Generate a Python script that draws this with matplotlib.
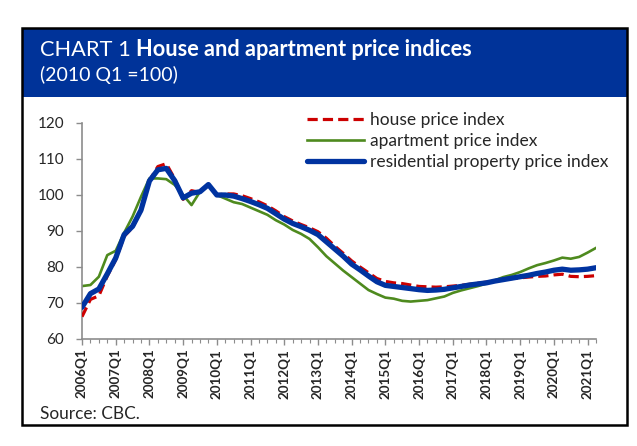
import matplotlib
matplotlib.use("Agg")
import matplotlib.pyplot as plt
import matplotlib.patches as mpatches
import numpy as np

# ── Data (2010 Q1 = 100) ───────────────────────────────────────────────────────
years = list(range(2006, 2022))
quarters = [f"{y}Q{q}" for y in years for q in range(1, 5)][:62]   # 2006Q1 .. 2021Q2

house = [66.2, 71.0, 72.0, 77.5, 82.0, 88.5, 91.0, 95.5, 104.0, 107.9,
         108.7, 104.5, 98.8, 101.2, 100.7, 102.8, 100.0, 100.3, 100.3, 99.8,
         99.0, 98.1, 97.0, 95.6, 94.0, 92.8, 91.8, 90.9, 89.8, 88.0,
         85.8, 83.8, 81.7, 80.0, 78.4, 76.8, 76.0, 75.6, 75.4, 75.0,
         74.6, 74.5, 74.4, 74.5, 74.7, 74.9, 75.2, 75.5, 75.8, 76.2,
         76.5, 76.8, 77.0, 77.2, 77.4, 77.5, 77.8, 78.0, 77.4, 77.3,
         77.4, 77.6]

apartment = [74.7, 75.0, 77.3, 83.3, 84.5, 89.5, 94.0, 99.5, 104.6, 104.6,
             104.4, 102.8, 100.0, 97.2, 100.9, 102.7, 100.0, 99.0, 98.0, 97.5,
             96.5, 95.5, 94.5, 93.0, 91.8, 90.3, 89.2, 87.8, 85.5, 83.0,
             81.0, 79.0, 77.2, 75.4, 73.6, 72.5, 71.5, 71.2, 70.6, 70.4,
             70.6, 70.8, 71.3, 71.8, 72.8, 73.5, 74.1, 74.7, 75.4, 76.3,
             77.2, 77.8, 78.6, 79.6, 80.5, 81.1, 81.8, 82.6, 82.3, 82.8,
             84.0, 85.3]

residential = [68.8, 72.6, 73.9, 78.1, 82.5, 89.0, 91.3, 95.8, 103.9, 107.0,
               107.4, 104.0, 99.2, 100.5, 100.9, 102.9, 100.0, 100.0, 99.7, 99.0,
               98.2, 97.3, 96.3, 94.8, 93.3, 92.1, 91.2, 90.2, 89.0, 87.0,
               85.0, 83.0, 80.8, 79.2, 77.5, 75.9, 74.9, 74.6, 74.3, 74.0,
               73.7, 73.5, 73.6, 73.8, 74.2, 74.6, 75.0, 75.3, 75.6, 76.1,
               76.5, 76.9, 77.3, 77.7, 78.2, 78.6, 79.1, 79.4, 79.1, 79.2,
               79.4, 79.8]

# ── Style ──────────────────────────────────────────────────────────────────────
FONT   = "Lato"
NAVY   = "#003399"
RED    = "#CC0000"
GREEN  = "#4E8A1E"
BLUE   = "#0033A0"
AXIS   = "#8C8C8C"
TEXT   = "#262626"

plt.rcParams["font.family"] = [FONT, "DejaVu Sans"]

W, H = 637, 446
fig = plt.figure(figsize=(W / 100, H / 100), dpi=100, facecolor="white")

def fx(px):
    return px / W

def fy(py):
    return 1 - py / H

# frame and blue header band
fig.patches.append(mpatches.Rectangle((fx(22), fy(97)), fx(627) - fx(22), fy(28) - fy(97),
                                      transform=fig.transFigure, facecolor=NAVY,
                                      edgecolor="none", zorder=0))
fig.patches.append(mpatches.Rectangle((fx(22), fy(425)), fx(627) - fx(22), fy(28) - fy(425),
                                      transform=fig.transFigure, facecolor="none",
                                      edgecolor="black", linewidth=1.8, zorder=5))

# ── Axes ───────────────────────────────────────────────────────────────────────
ax = fig.add_axes([fx(82), fy(339), fx(596) - fx(82), fy(123) - fy(339)])
ax.set_facecolor("none")
x = np.arange(len(quarters))

l_house, = ax.plot(x, house, color=RED, lw=2.3, dashes=(3.2, 1.6), zorder=3,
                   label="house price index")
l_apt, = ax.plot(x, apartment, color=GREEN, lw=1.9, zorder=2,
                 label="apartment price index")
l_res, = ax.plot(x, residential, color=BLUE, lw=3.8, zorder=4,
                 solid_capstyle="round", label="residential property price index")

ax.set_xlim(0, len(quarters) - 1)
ax.set_ylim(60, 120)
ax.set_yticks(range(60, 121, 10))
ax.set_xticks(x[::4])
ax.set_xticklabels(quarters[::4], rotation=90, fontsize=9.6, fontweight="bold", color=TEXT)
ax.set_xticks(x, minor=True)
ax.tick_params(axis="y", labelsize=11, labelcolor=TEXT, color=AXIS, length=4, width=1, pad=9)
ax.tick_params(axis="x", which="major", color=AXIS, length=4, width=1, pad=3)
ax.tick_params(axis="x", which="minor", color=AXIS, length=3, width=0.8)

for side in ("top", "right"):
    ax.spines[side].set_visible(False)
for side in ("left", "bottom"):
    ax.spines[side].set_color(AXIS)
    ax.spines[side].set_linewidth(1.2)

# ── Legend ─────────────────────────────────────────────────────────────────────
fig.legend(handles=[l_house, l_apt, l_res], loc="upper left",
           bbox_to_anchor=(fx(298), fy(103)), frameon=False, fontsize=12.5,
           handlelength=3.3, handletextpad=0.35, labelspacing=0.3, borderpad=0,
           labelcolor=TEXT)

# ── Title, subtitle, source ───────────────────────────────────────────────────
t1 = fig.text(fx(40), fy(50), "CHART 1 ", color="white", fontsize=15.7,
              va="center", ha="left")
fig.canvas.draw()
bb = t1.get_window_extent(renderer=fig.canvas.get_renderer())
fig.text(bb.x1 / W, fy(50), "House and apartment price indices", color="white",
         fontsize=15.7, fontweight="bold", va="center", ha="left")
fig.text(fx(40), fy(75), "(2010 Q1 =100)", color="white", fontsize=14,
         va="center", ha="left")
fig.text(fx(40), fy(414), "Source: CBC.", color=TEXT, fontsize=12.4,
         va="center", ha="left")

fig.savefig("out.png", dpi=100, facecolor="white")
